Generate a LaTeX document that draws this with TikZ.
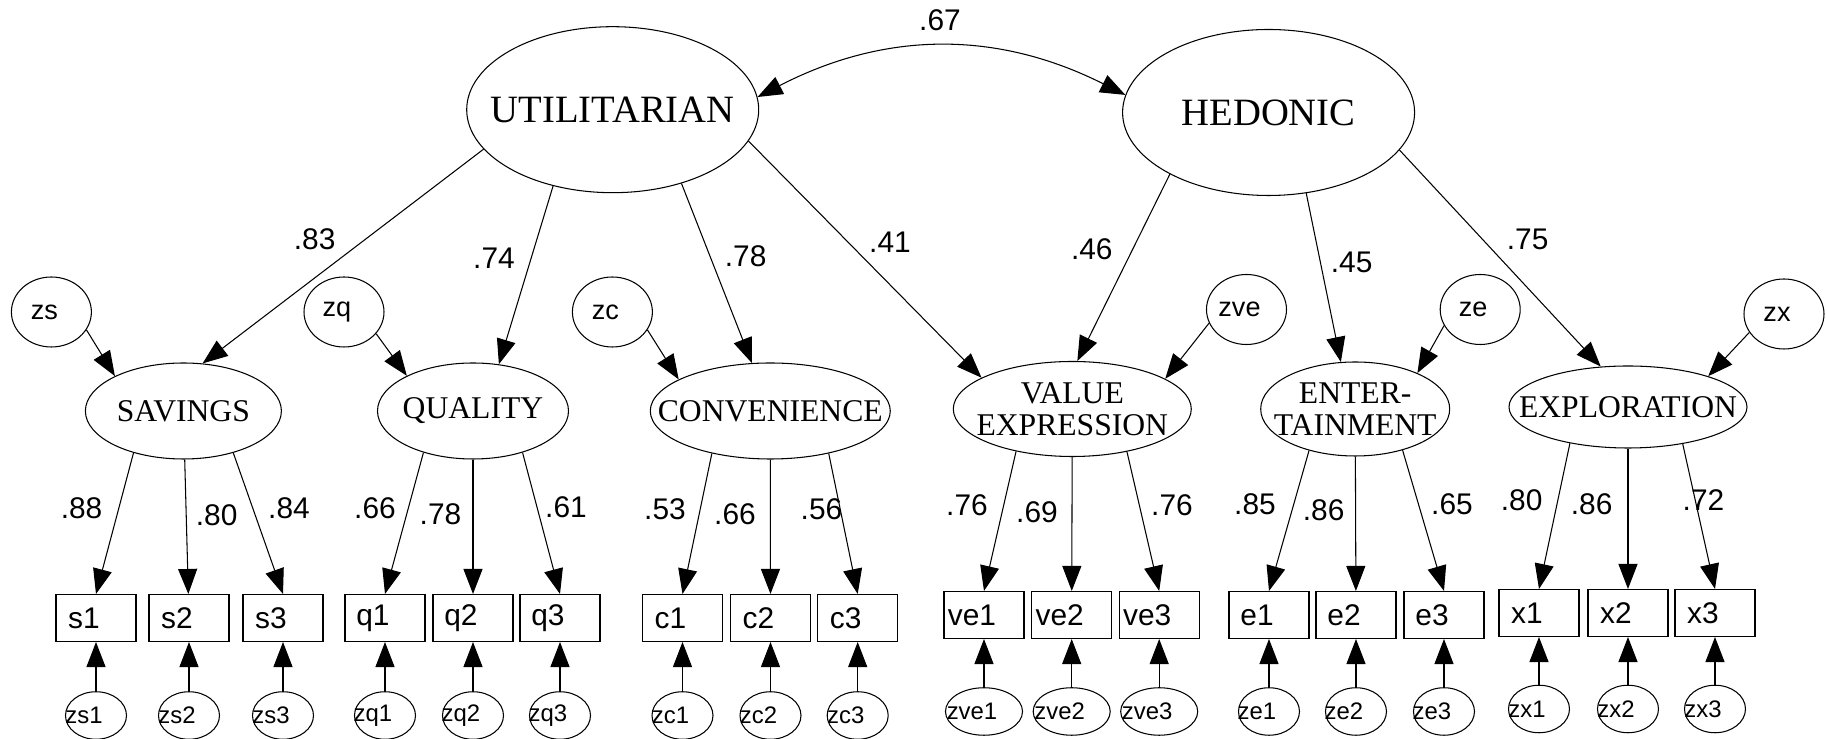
\documentclass[tikz,border=0pt]{standalone}
\usepackage{fontspec}
\setmainfont{Liberation Serif}
\setsansfont{Liberation Sans}
\usetikzlibrary{positioning,arrows.meta,shapes.geometric}

\begin{document}
\begin{tikzpicture}[x=0.1mm,y=-0.1mm,line width=0.3pt,
		>={Triangle[length=2.5mm,width=1.9mm]},
		big/.style={draw,ellipse,minimum width=29.2mm,minimum height=16.6mm,inner sep=-3mm,font=\fontsize{11}{13}\selectfont},
		lat/.style={draw,ellipse,minimum height=9.6mm,inner xsep=-3mm,inner ysep=-1mm,align=center,font=\fontsize{9}{9.2}\selectfont},
		ind/.style={draw,rectangle,minimum width=8mm,minimum height=4.7mm,inner sep=0pt,execute at end node={\hspace*{2.4mm}},font=\sffamily\fontsize{8.5}{9}\selectfont},
		dist/.style={draw,ellipse,minimum width=8mm,minimum height=7mm,inner sep=0pt,execute at end node={\hspace*{1.4mm}},font=\sffamily\fontsize{7.7}{8}\selectfont},
		err/.style={draw,ellipse,minimum width=6.1mm,minimum height=4.75mm,inner sep=-1mm,execute at end node={\hspace*{2.4mm}},font=\sffamily\fontsize{6.8}{7}\selectfont},
		lbl/.style={inner sep=0pt,font=\sffamily\fontsize{8.5}{9}\selectfont}]
	\useasboundingbox (0,0) rectangle (1827,739);
	% second order factors
	\node[big] (util) at (612.7,109.7) {UTILITARIAN};
	\node[big] (hed) at (1268.6,112.5) {HEDONIC};
	\draw[<->] (util.5) to[bend left=27] (hed.173);
	\node[lbl] (l67) at (940,20) {.67};
	% first order factors
	\node[lat,minimum width=19.6mm] (sav) at (183.4,411) {SAVINGS};
	\node[lat,minimum width=19.1mm] (qual) at (473,411) {QUALITY};
	\node[lat,minimum width=24mm] (conv) at (770.3,411) {CONVENIENCE};
	\node[lat,minimum width=23.8mm,minimum height=9.5mm] (valexp) at (1072.3,409) {VALUE\\EXPRESSION};
	\node[lat,minimum width=18.9mm,minimum height=9.4mm] (ent) at (1355.2,409) {ENTER-\\TAINMENT};
	\node[lat,minimum width=23.8mm,minimum height=8.2mm] (expl) at (1628,407) {EXPLORATION};
	\draw[->] (util.197) -- (sav.68);
	\draw[->] (util.232) -- (qual.61);
	\draw[->] (util.313) -- (conv.111);
	\draw[->] (util.347) -- (valexp.161);
	\draw[->] (hed.212) -- (valexp.84);
	\draw[->] (hed.295) -- (ent.107);
	\draw[->] (hed.344) -- (expl.124);
	\node[lbl] (l83) at (314.6,239) {.83};
	\node[lbl] (l74) at (494,258.7) {.74};
	\node[lbl] (l78) at (745.7,256) {.78};
	\node[lbl] (l41) at (890,242) {.41};
	\node[lbl] (l46) at (1091.8,249) {.46};
	\node[lbl] (l45) at (1351.6,262) {.45};
	\node[lbl] (l75) at (1527.6,239) {.75};
	% disturbances
	\node[dist] (zs) at (51.4,312) {zs};
	\node[dist] (zq) at (344,312) {zq};
	\node[dist] (zc) at (612.4,312) {zc};
	\node[dist] (zve) at (1246.5,309.5) {zve};
	\node[dist] (ze) at (1480.2,309.5) {ze};
	\node[dist] (zx) at (1784,314) {zx};
	\draw[->] (zs.333) -- (sav.153);
	\draw[->] (zq.326) -- (qual.152);
	\draw[->] (zc.333) -- (conv.161);
	\draw[->] (zve.200) -- (valexp.18);
	\draw[->] (ze.204) -- (ent.30);
	\draw[->] (zx.208) -- (expl.21);
	% indicators
	\node[ind] (s1) at (96,618) {s1};
	\node[ind] (s2) at (189,618) {s2};
	\node[ind] (s3) at (283,618) {s3};
	\node[ind] (q1) at (385,618) {q1};
	\node[ind] (q2) at (473,618) {q2};
	\node[ind] (q3) at (560,618) {q3};
	\node[ind] (c1) at (682.5,618) {c1};
	\node[ind] (c2) at (770.5,618) {c2};
	\node[ind] (c3) at (857.7,618) {c3};
	\node[ind] (ve1) at (984,615) {ve1};
	\node[ind] (ve2) at (1071.7,615) {ve2};
	\node[ind] (ve3) at (1159.2,615) {ve3};
	\node[ind] (e1) at (1269,615) {e1};
	\node[ind] (e2) at (1356,615) {e2};
	\node[ind] (e3) at (1444,615) {e3};
	\node[ind] (x1) at (1539,613) {x1};
	\node[ind] (x2) at (1628,613) {x2};
	\node[ind] (x3) at (1715,613) {x3};
	\draw[->] (sav.220) -- (s1.north);
	\draw[->] (sav) -- (s2);
	\draw[->] (sav.320) -- (s3.north);
	\draw[->] (qual.220) -- (q1.north);
	\draw[->] (qual) -- (q2);
	\draw[->] (qual.320) -- (q3.north);
	\draw[->] (conv.216) -- (c1.north);
	\draw[->] (conv) -- (c2);
	\draw[->] (conv.324) -- (c3.north);
	\draw[->] (valexp.217) -- (ve1.north);
	\draw[->] (valexp) -- (ve2);
	\draw[->] (valexp.322) -- (ve3.north);
	\draw[->] (ent.222) -- (e1.north);
	\draw[->] (ent) -- (e2);
	\draw[->] (ent.319) -- (e3.north);
	\draw[->] (expl.212) -- (x1.north);
	\draw[->] (expl) -- (x2);
	\draw[->] (expl.326) -- (x3.north);
	\node[lbl] (l88) at (81.6,508) {.88};
	\node[lbl] (l80a) at (216.7,515) {.80};
	\node[lbl] (l84) at (289,508) {.84};
	\node[lbl] (l66a) at (375,508) {.66};
	\node[lbl] (l78b) at (440.5,514) {.78};
	\node[lbl] (l61) at (566,507) {.61};
	\node[lbl] (l53) at (665,509) {.53};
	\node[lbl] (l66b) at (735,514) {.66};
	\node[lbl] (l56) at (821.5,509) {.56};
	\node[lbl] (l76a) at (967,505.7) {.76};
	\node[lbl] (l69) at (1037,512.7) {.69};
	\node[lbl] (l76b) at (1172,505.7) {.76};
	\node[lbl] (l85) at (1255,504.5) {.85};
	\node[lbl] (l86a) at (1323.7,510) {.86};
	\node[lbl] (l65) at (1452,504.5) {.65};
	\node[lbl] (l80b) at (1521.7,500) {.80};
	\node[lbl] (l86b) at (1591.7,504.5) {.86};
	\node[lbl] (l72) at (1703.5,500) {.72};
	% errors
	\node[err] (zs1) at (96,715.5) {zs1};
	\node[err] (zs2) at (189,715.5) {zs2};
	\node[err] (zs3) at (283,715.5) {zs3};
	\node[err] (zq1) at (385,715.5) {zq1};
	\node[err] (zq2) at (473,715.5) {zq2};
	\node[err] (zq3) at (560,715.5) {zq3};
	\node[err] (zc1) at (682.5,715.5) {zc1};
	\node[err] (zc2) at (770.5,715.5) {zc2};
	\node[err] (zc3) at (857.7,715.5) {zc3};
	\node[err] (zve1) at (984,711.5) {zve1};
	\node[err] (zve2) at (1071.7,711.5) {zve2};
	\node[err] (zve3) at (1159.2,711.5) {zve3};
	\node[err] (ze1) at (1269,711.5) {ze1};
	\node[err] (ze2) at (1356,711.5) {ze2};
	\node[err] (ze3) at (1444,711.5) {ze3};
	\node[err] (zx1) at (1539,709) {zx1};
	\node[err] (zx2) at (1628,709) {zx2};
	\node[err] (zx3) at (1715,709) {zx3};
	\draw[->] (zs1) -- (s1);
	\draw[->] (zs2) -- (s2);
	\draw[->] (zs3) -- (s3);
	\draw[->] (zq1) -- (q1);
	\draw[->] (zq2) -- (q2);
	\draw[->] (zq3) -- (q3);
	\draw[->] (zc1) -- (c1);
	\draw[->] (zc2) -- (c2);
	\draw[->] (zc3) -- (c3);
	\draw[->] (zve1) -- (ve1);
	\draw[->] (zve2) -- (ve2);
	\draw[->] (zve3) -- (ve3);
	\draw[->] (ze1) -- (e1);
	\draw[->] (ze2) -- (e2);
	\draw[->] (ze3) -- (e3);
	\draw[->] (zx1) -- (x1);
	\draw[->] (zx2) -- (x2);
	\draw[->] (zx3) -- (x3);
\end{tikzpicture}
\end{document}
